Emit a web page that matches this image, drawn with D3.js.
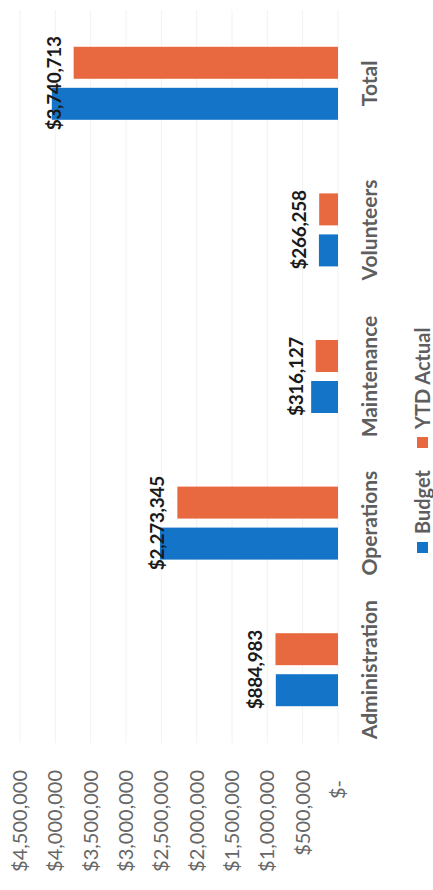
<!DOCTYPE html>
<html lang="en">
<head>
    <meta charset="UTF-8">
    <title>Budget vs YTD Actual</title>
    <script src="https://cdn.jsdelivr.net/npm/d3@7"></script>
    <style>
        body {
            margin: 0;
            background: #ffffff;
        }

        svg {
            display: block;
        }

        .tick-label {
            fill: #666666;
            font-family: Lato, sans-serif;
            font-size: 20px;
        }

        .cat-label {
            fill: #5e5e5e;
            font-family: Lato, sans-serif;
            font-weight: bold;
            font-size: 21px;
        }

        .value-label {
            fill: #1a1a1a;
            font-family: Lato, sans-serif;
            font-weight: bold;
            font-size: 19px;
        }

        .legend-label {
            fill: #5e5e5e;
            font-family: Lato, sans-serif;
            font-weight: bold;
            font-size: 20px;
        }
    </style>
</head>
<body>
<svg class="chart"></svg>

<script>

    var categories = ['Administration', 'Operations', 'Maintenance', 'Volunteers', 'Total'];
    var budget = [880000, 2520000, 380000, 270000, 4050000];
    var ytdActual = [884983, 2273345, 316127, 266258, 3740713];
    var labels = ['$884,983', '$2,273,345', '$316,127', '$266,258', '$3,740,713'];
    var seriesNames = ['Budget', 'YTD Actual'];
    var seriesColors = ['#1474c8', '#e8693f'];
    var yTicks = [0, 500000, 1000000, 1500000, 2000000, 2500000, 3000000, 3500000, 4000000, 4500000];

    var W = 433, H = 890;

    var svg = d3.select('svg')
        .attr('width', W)
        .attr('height', H);

    svg.append('rect')
        .attr('width', W)
        .attr('height', H)
        .attr('fill', '#ffffff');

    // the whole chart is drawn as a normal column chart and then turned on its side
    var layer = svg.append('g')
        .attr('transform', 'translate(0,' + H + ') rotate(-90)');

    var x0 = d3.scaleBand()
        .domain(categories)
        .range([147, 880])
        .padding(0);

    var x1 = d3.scaleBand()
        .domain(seriesNames)
        .range([0, 73])
        .paddingInner(0.22)
        .paddingOuter(0);

    var y = d3.scaleLinear()
        .domain([0, 4500000])
        .range([338, 20]);

    // grid
    layer.selectAll('.grid')
        .data(yTicks)
        .enter()
        .append('line')
        .attr('class', 'grid')
        .attr('x1', 147)
        .attr('x2', 880)
        .attr('y1', function (d) { return y(d); })
        .attr('y2', function (d) { return y(d); })
        .attr('stroke', '#f2f2f2')
        .attr('stroke-width', 1);

    // value axis labels
    layer.selectAll('.tick-label')
        .data(yTicks)
        .enter()
        .append('text')
        .attr('class', 'tick-label')
        .attr('x', function (d) { return d === 0 ? 110 : 120; })
        .attr('y', function (d) { return y(d); })
        .attr('dy', '0.35em')
        .attr('text-anchor', 'end')
        .text(function (d) {
            return d === 0 ? '$-' : '$' + d3.format(',')(d);
        });

    var rows = categories.map(function (c, i) {
        return {cat: c, values: [budget[i], ytdActual[i]], label: labels[i], actual: ytdActual[i]};
    });

    var groups = layer.selectAll('.cat')
        .data(rows)
        .enter()
        .append('g')
        .attr('class', 'cat')
        .attr('transform', function (d) {
            return 'translate(' + (x0(d.cat) + x0.bandwidth() / 2 - 36.5) + ',0)';
        });

    groups.selectAll('rect')
        .data(function (d) {
            return d.values.map(function (v, j) {
                return {name: seriesNames[j], value: v, color: seriesColors[j]};
            });
        })
        .enter()
        .append('rect')
        .attr('x', function (d) { return x1(d.name); })
        .attr('width', x1.bandwidth())
        .attr('y', function (d) { return y(d.value); })
        .attr('height', function (d) { return y(0) - y(d.value); })
        .attr('fill', function (d) { return d.color; });

    groups.append('text')
        .attr('class', 'value-label')
        .attr('x', 36.5)
        .attr('y', function (d) { return y(d.actual) - 13; })
        .attr('text-anchor', 'middle')
        .attr('letter-spacing', '-0.3')
        .text(function (d) { return d.label; });

    // category labels
    layer.selectAll('.cat-label')
        .data(categories)
        .enter()
        .append('text')
        .attr('class', 'cat-label')
        .attr('x', function (d) { return x0(d) + x0.bandwidth() / 2; })
        .attr('y', 377)
        .attr('text-anchor', 'middle')
        .text(function (d) { return d; });

    // legend
    var legendX = [337, 442];
    var legend = layer.selectAll('.legend')
        .data(seriesNames)
        .enter()
        .append('g')
        .attr('class', 'legend')
        .attr('transform', function (d, i) {
            return 'translate(' + legendX[i] + ',0)';
        });

    legend.append('rect')
        .attr('x', 0)
        .attr('y', 417)
        .attr('width', 11)
        .attr('height', 11)
        .attr('fill', function (d, i) { return seriesColors[i]; });

    legend.append('text')
        .attr('class', 'legend-label')
        .attr('x', 19)
        .attr('y', 430)
        .text(function (d) { return d; });

</script>
</body>
</html>
